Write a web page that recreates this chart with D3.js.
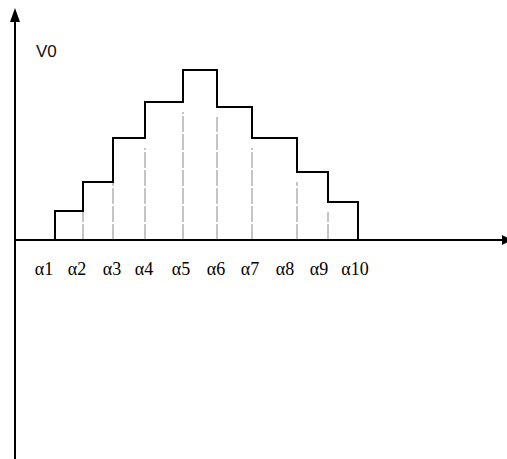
<!DOCTYPE html>
<html>
<head>
<meta charset="utf-8">
<script src="https://cdn.jsdelivr.net/npm/d3@7"></script>
<style>
  body { margin: 0; background: #fff; }
  svg { display: block; }
</style>
</head>
<body>
<div id="chart"></div>
<script>
// step edges (horizontal units)
var edges = [40, 68, 98, 130, 168, 202, 237, 282, 313, 343];
// step heights between consecutive edges
var levels = [29, 58, 102, 138, 170, 133, 102, 68, 38];
var labels = ["α1", "α2", "α3", "α4", "α5", "α6", "α7", "α8", "α9", "α10"];
var labelShift = [-11, -6, -1, -1, -2, -1, -2, -12, -9, -3];

var width = 507, height = 459;

var x = d3.scaleLinear().domain([0, 492]).range([15, 507]);
var y = d3.scaleLinear().domain([0, 228]).range([240, 12]);

var svg = d3.select("#chart").append("svg")
  .attr("width", width)
  .attr("height", height);

// dashed verticals at interior edges
var inner = d3.range(1, edges.length - 1);
svg.append("g").selectAll("line")
  .data(inner)
  .enter().append("line")
  .attr("x1", function (i) { return x(edges[i]); })
  .attr("x2", function (i) { return x(edges[i]); })
  .attr("y1", y(0))
  .attr("y2", function (i) {
    var lo = Math.min(levels[i - 1], levels[i]);
    return y(lo) + (i < 3 ? 0 : 10);
  })
  .style("stroke", "#8a8a8a")
  .style("stroke-width", 1)
  .style("stroke-dasharray", "16,2");

// the step outline
var pts = [[edges[0], 0]];
levels.forEach(function (v, i) {
  pts.push([edges[i], v]);
  pts.push([edges[i + 1], v]);
});
pts.push([edges[edges.length - 1], 0]);

svg.append("path")
  .attr("d", d3.line().x(function (d) { return x(d[0]); }).y(function (d) { return y(d[1]); })(pts))
  .style("fill", "none")
  .style("stroke", "#000")
  .style("stroke-width", 2);

// axes
svg.append("line")
  .attr("x1", x(0)).attr("x2", 503)
  .attr("y1", y(0)).attr("y2", y(0))
  .style("stroke", "#000").style("stroke-width", 2);
svg.append("path")
  .attr("d", "M502," + (y(0) - 5) + "L512," + y(0) + "L502," + (y(0) + 5) + "Z")
  .style("fill", "#000");

svg.append("line")
  .attr("x1", x(0)).attr("x2", x(0))
  .attr("y1", height).attr("y2", 20)
  .style("stroke", "#000").style("stroke-width", 2);
svg.append("path")
  .attr("d", "M" + (x(0) - 5) + ",22L" + x(0) + ",8L" + (x(0) + 5) + ",22Z")
  .style("fill", "#000");

// tick labels
svg.append("g").selectAll("text")
  .data(labels)
  .enter().append("text")
  .attr("x", function (d, i) { return x(edges[i]) + labelShift[i]; })
  .attr("y", 275)
  .attr("text-anchor", "middle")
  .style("font-family", "'Liberation Serif', 'Times New Roman', serif")
  .style("font-size", "18px")
  .text(function (d) { return d; });

svg.append("text")
  .attr("x", 36)
  .attr("y", 57)
  .style("font-family", "'Liberation Sans', Arial, sans-serif")
  .style("font-size", "17px")
  .style("fill", "#111")
  .text("V0");
</script>
</body>
</html>
